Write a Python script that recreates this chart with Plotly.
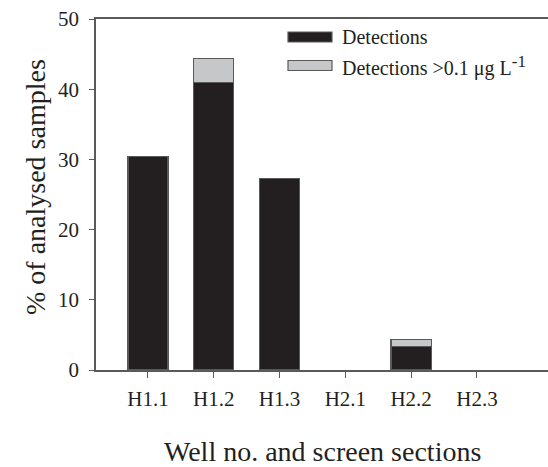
import plotly.graph_objects as go

categories = ["H1.1", "H1.2", "H1.3", "H2.1", "H2.2", "H2.3"]
detections = [30.4, 40.9, 27.3, None, 3.4, None]
detections_gt = [None, 3.5, None, None, 1.0, None]
y_ticks = [0, 10, 20, 30, 40, 50]

xi = list(range(len(categories)))
FONT = "Liberation Serif, Times New Roman, serif"
BLACK = "#231f20"
GREY = "#c6c7c9"
EDGE = "#5a5a5a"
L, T, W, H = 96, 19, 452, 351

fig = go.Figure()
fig.add_trace(go.Bar(x=xi, y=detections, width=0.61, marker=dict(color=BLACK, line=dict(color=EDGE, width=1.2)),
                     name="Detections", showlegend=False))
fig.add_trace(go.Bar(x=xi, y=detections_gt, width=0.61, marker=dict(color=GREY, line=dict(color=EDGE, width=1.2)),
                     name="Detections >0.1 μg L-1", showlegend=False))

# manual legend
legend_items = [("Detections", BLACK),
                ("Detections >0.1 μg L<sup><span style='font-size:17px'>-1</span></sup>", GREY)]
x0p, x1p = (288 - L) / W, (332 - L) / W
for i, (label, col) in enumerate(legend_items):
    yc = 37 + i * 28.5
    yt = 1 - (yc - 5 - T) / H
    yb = 1 - (yc + 5 - T) / H
    fig.add_shape(type="rect", xref="paper", yref="paper", x0=x0p, x1=x1p, y0=yb, y1=yt,
                  fillcolor=col, line=dict(color=EDGE, width=1.2))
    fig.add_annotation(xref="paper", yref="paper", x=(340 - L) / W, y=1 - (yc - T) / H,
                       text=label, showarrow=False, xanchor="left", yanchor="middle",
                       font=dict(family=FONT, size=20, color="#231f20"))

# axis titles
fig.add_annotation(xref="paper", yref="paper", x=(322 - L) / W, y=1 - (452 - T) / H,
                   text="Well no. and screen sections", showarrow=False,
                   xanchor="center", yanchor="middle", font=dict(family=FONT, size=28, color="#231f20"))
fig.add_annotation(xref="paper", yref="paper", x=(35 - L) / W, y=1 - (187 - T) / H,
                   text="% of analysed samples", showarrow=False, textangle=-90,
                   xanchor="center", yanchor="middle", font=dict(family=FONT, size=28, color="#231f20"))

fig.update_layout(
    barmode="stack",
    width=548, height=467,
    margin=dict(l=L, r=0, t=T, b=467 - T - H, autoexpand=False),
    paper_bgcolor="white", plot_bgcolor="white",
    font=dict(family=FONT, size=21, color="#231f20"),
)
fig.update_xaxes(
    range=[-0.79, 6.08], tickmode="array", tickvals=xi, ticktext=categories,
    showline=True, linecolor=EDGE, linewidth=1.5, mirror=True,
    ticks="outside", ticklen=6, tickcolor=EDGE, tickwidth=1.2,
    ticklabelstandoff=3, automargin=False,
    showgrid=False, zeroline=False,
)
fig.update_yaxes(
    range=[0, 50], tickmode="array", tickvals=y_ticks,
    showline=True, linecolor=EDGE, linewidth=1.5, mirror=False,
    ticks="outside", ticklen=5, tickcolor=EDGE, tickwidth=1.2,
    ticklabelstandoff=6, automargin=False,
    showgrid=False, zeroline=False,
)
fig.write_html("out.html")
